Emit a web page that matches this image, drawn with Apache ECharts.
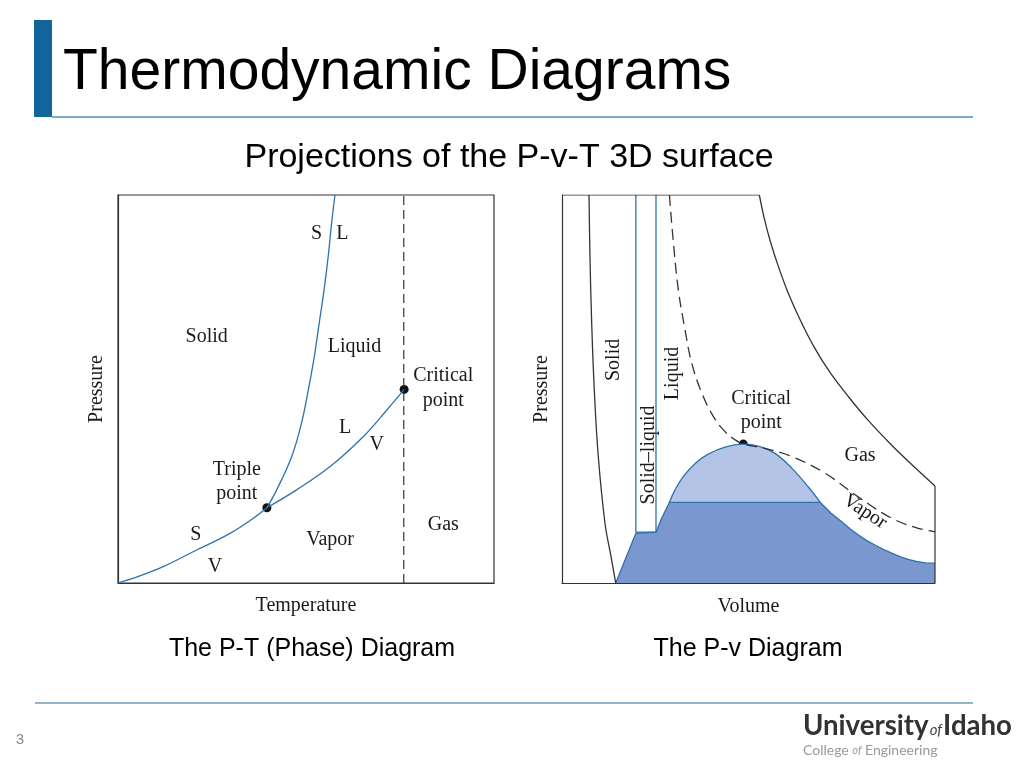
<!DOCTYPE html>
<html><head><meta charset="utf-8">
<script src="https://cdn.jsdelivr.net/npm/echarts@6/dist/echarts.min.js"></script>
<style>html,body{margin:0;padding:0;background:#fff}#c{width:1024px;height:768px}</style>
</head><body><div id="c"></div>
<script>
// ---------- P-T (phase) diagram data (arbitrary 0-100 units) ----------
const ptSublimation = [[0,0],[6,1.9],[12,4.2],[20.9,8.5],[29.8,12.8],[36,16.7],[39.6,19.4]];
const ptFusion = [[39.6,19.4],[42.2,24],[46.2,32.6],[48.8,41.2],[50.6,49.7],[52.2,58.3],[53.5,66.9],[54.8,75.5],[55.9,84.1],[56.8,92.7],[57.7,100]];
const ptVaporization = [[39.6,19.4],[47.5,24],[56.4,30],[65.2,37.7],[71.5,44.6],[76.1,49.9]];
const ptCriticalIsotherm = [[76,0],[76,100]];
const ptPoints = [[39.6,19.4],[76.1,49.9]];
const ptLabels = [
  [52.8,90.1,'S'],[59.7,89.9,'L'],[23.6,63.5,'Solid'],[62.9,60.9,'Liquid'],
  [86.5,53.4,'Critical'],[86.5,47.0,'point'],[60.4,39.9,'L'],[68.8,35.6,'V'],
  [31.6,29.1,'Triple'],[31.6,22.9,'point'],[20.7,12.4,'S'],[25.8,4.2,'V'],
  [56.4,11.1,'Vapor'],[86.5,15.1,'Gas']
];
// ---------- P-v diagram data ----------
const pvSolidIsotherm = [[7.24,100],[7.5,84.1],[7.96,66.9],[8.66,49.7],[9.73,32.6],[11.53,15.4],[13.14,6.8],[14.4,0]];
const pvSolidLiquid = [[19.8,100],[19.8,13.1],[25.2,13.1],[25.2,100]];
const pvDome = [[28.8,20.8],[30.3,24.0],[32.5,27.4],[35.7,30.8],[39.2,33.2],[43.7,35.0],[48.6,35.8],[52.6,35.3],[57.1,33.4],[61.6,29.6],[66.0,24.8],[69.2,20.8]];
const pvSolidVapor = [[14.4,0],[19.8,12.8],[25.2,13.1],[26.5,16.2],[28.8,20.8],[69.2,20.8],[72.0,18.1],[75.0,15.8],[77.2,14.0],[79.4,12.4],[81.6,11.0],[83.9,9.8],[86.1,8.7],[88.4,7.7],[90.6,6.8],[92.8,6.1],[95.0,5.6],[97.3,5.2],[100,5.1]];
const pvCriticalIsotherm = [[28.8,100],[29.8,88.4],[31.2,75.5],[33.0,65.2],[34.8,56.6],[37.5,48.9],[40.6,42.9],[43.7,39.0],[46.4,36.9],[48.6,35.8],[54.4,34.7],[61.6,32.6],[70.5,28.3],[79.4,22.2],[88.4,16.7],[95.5,14.1],[100,13.2]];
const pvHighIsotherm = [[52.9,100],[54.2,94.1],[55.8,88.2],[58.0,81.6],[60.7,74.6],[63.9,67.7],[67.6,60.8],[71.9,54.2],[76.8,48.0],[82.1,41.9],[88.0,35.9],[93.9,30.4],[100,25.0]];
const pvFrameTop = [[0,100],[52.9,100]];
const pvFrameRight = [[100,25.0],[100,0]];
const pvCritical = [[48.6,35.8]];
const pvLabels = [
  [13.8,57.5,'Solid',90],[23.3,33.0,'Solid–liquid',90],[29.8,54.0,'Liquid',90],
  [53.4,47.6,'Critical',0],[53.4,41.2,'point',0],[79.9,32.8,'Gas',0],
  [48.2,30.7,'Liquid–',0],[48.2,24.8,'vapor',0],[48.0,17.3,'Triple line',0],
  [55.8,8.1,'Solid–vapor',0],[81.2,18.4,'Vapor',-33]
];
const captions = ['The P-T (Phase) Diagram','The P-v Diagram'];

const SERIF = '"Liberation Serif", "DejaVu Serif", serif';
const SANS = '"Liberation Sans", Arial, sans-serif';
const BLUE = '#2d72ae';
const INK = '#1a1a1a';

function axisX(gi, name, gap){
  return {type:'value', gridIndex:gi, min:0, max:100, name:name, nameLocation:'middle', nameGap:gap,
    nameTextStyle:{fontFamily:SERIF, fontSize:20, color:INK},
    axisLine:{show:true, lineStyle:{color:'#333', width:1.2}}, axisTick:{show:false}, axisLabel:{show:false}, splitLine:{show:false}};
}
function axisY(gi, name, gap){
  return {type:'value', gridIndex:gi, min:0, max:100, name:name, nameLocation:'middle', nameGap:gap, nameRotate:90,
    nameTextStyle:{fontFamily:SERIF, fontSize:20, color:INK},
    axisLine:{show:true, lineStyle:{color:'#333', width:1.2}}, axisTick:{show:false}, axisLabel:{show:false}, splitLine:{show:false}};
}
function curve(gi, data, opts){
  return Object.assign({type:'line', xAxisIndex:gi, yAxisIndex:gi, data:data, symbol:'none', silent:true,
    lineStyle:{color:BLUE, width:1.3}}, opts||{});
}
function labels(gi, arr){
  return {type:'scatter', xAxisIndex:gi, yAxisIndex:gi, symbolSize:0, silent:true,
    itemStyle:{opacity:1},
    data: arr.map(d => ({value:[d[0],d[1]], name:d[2], label:{rotate:d[3]||0}})),
    label:{show:true, position:'inside', formatter:p=>p.name, fontFamily:SERIF, fontSize:20, color:INK,
      textBorderWidth:0, opacity:1}};
}

const option = {
  animation:false,
  backgroundColor:'#fff',
  grid:[
    {left:118, top:195, width:376, height:388, show:true, borderColor:'#333', borderWidth:1.2, backgroundColor:'transparent'},
    {left:562, top:195, width:373, height:388}
  ],
  xAxis:[axisX(0,'Temperature',13), axisX(1,'Volume',14)],
  yAxis:[axisY(0,'Pressure',11), axisY(1,'Pressure',10)],
  series:[
    curve(0, ptCriticalIsotherm, {lineStyle:{color:'#333', width:1.2, type:[9,5]}}),
    curve(0, ptSublimation, {smooth:0.4}),
    curve(0, ptFusion, {smooth:0.4}),
    curve(0, ptVaporization, {smooth:0.4}),
    {type:'scatter', xAxisIndex:0, yAxisIndex:0, data:ptPoints, symbolSize:9, itemStyle:{color:'#111', opacity:1}, silent:true},
    labels(0, ptLabels),

    curve(1, pvDome, {smooth:0.4, areaStyle:{color:'#b4c4e6', opacity:1}}),
    curve(1, pvSolidVapor, {areaStyle:{color:'#7b97d0', opacity:1}}),
    curve(1, pvSolidLiquid),
    curve(1, pvSolidIsotherm, {smooth:0.4, lineStyle:{color:'#333', width:1.3}}),
    curve(1, pvHighIsotherm, {smooth:0.35, lineStyle:{color:'#333', width:1.3}}),
    curve(1, pvFrameTop, {lineStyle:{color:'#333', width:1.2}}),
    curve(1, pvFrameRight, {lineStyle:{color:'#333', width:1.2}}),
    curve(1, pvCriticalIsotherm, {smooth:0.4, lineStyle:{color:'#333', width:1.3, type:[11,6]}}),
    {type:'scatter', xAxisIndex:1, yAxisIndex:1, data:pvCritical, symbolSize:9, itemStyle:{color:'#111', opacity:1}, silent:true},
    labels(1, pvLabels)
  ],
  graphic:[
    {type:'rect', shape:{x:34, y:20, width:18, height:97}, style:{fill:'#11659a'}},
    {type:'line', shape:{x1:52, y1:117, x2:973, y2:117}, style:{stroke:'#4d90b8', lineWidth:1.5}},
    {type:'text', x:63, y:73, style:{text:'Thermodynamic Diagrams', font:'57px '+SANS, fill:'#000', textAlign:'left', textVerticalAlign:'middle'}},
    {type:'text', x:509, y:158, style:{text:'Projections of the P-v-T 3D surface', font:'34px '+SANS, fill:'#000', textAlign:'center', textVerticalAlign:'middle'}},
    {type:'text', x:312, y:649, style:{text:captions[0], font:'25px '+SANS, fill:'#000', textAlign:'center', textVerticalAlign:'middle'}},
    {type:'text', x:748, y:649, style:{text:captions[1], font:'25px '+SANS, fill:'#000', textAlign:'center', textVerticalAlign:'middle'}},
    {type:'line', shape:{x1:35, y1:703, x2:973, y2:703}, style:{stroke:'#6b9cbb', lineWidth:1.5}},
    {type:'text', x:20, y:740, style:{text:'3', font:'15px '+SANS, fill:'#888', textAlign:'center', textVerticalAlign:'middle'}},
    {type:'text', x:803, y:726, style:{text:'{u|University}{o|of}{u|Idaho}', textAlign:'left', textVerticalAlign:'middle',
      rich:{u:{fontFamily:'Lato, sans-serif', fontWeight:'bold', fontSize:27.6, fill:'#333', color:'#333'},
            o:{fontFamily:'Lato, sans-serif', fontStyle:'italic', fontSize:15, fill:'#444', color:'#444', padding:[8,1,0,1]}}}},
    {type:'text', x:803, y:750, style:{text:'{c|College }{o|of}{c| Engineering}', textAlign:'left', textVerticalAlign:'middle',
      rich:{c:{fontFamily:'Lato, sans-serif', fontSize:14, fill:'#999', color:'#999'},
            o:{fontFamily:'Lato, sans-serif', fontStyle:'italic', fontSize:11, fill:'#999', color:'#999'}}}}
  ]
};
const chart = echarts.init(document.getElementById('c'), null, {renderer:'canvas'});
chart.setOption(option);
</script></body></html>
